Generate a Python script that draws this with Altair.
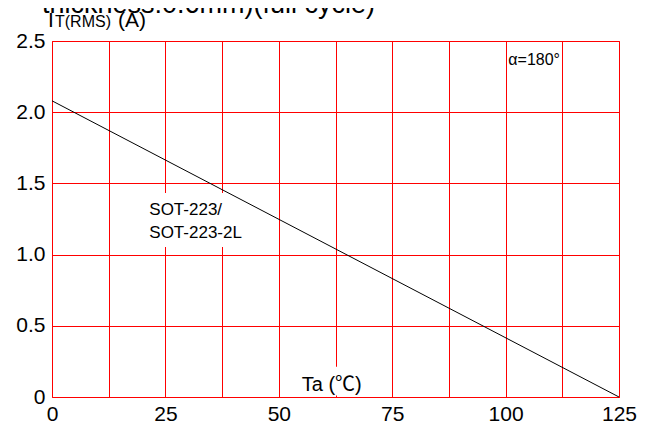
import altair as alt
import pandas as pd

# ---- data ----
temps = [0, 125]            # Ta (°C)
current = [2.08, 0.0]       # IT(RMS) (A)

x_grid = [0, 12.5, 25, 37.5, 50, 62.5, 75, 87.5, 100, 112.5, 125]
y_grid = [0, 0.25, 0.5, 0.75, 1.0, 1.25, 1.5, 1.75, 2.0, 2.25, 2.5]

# annotation texts (data-space anchors)
ann_text = ["thickness:0.6mm)(full cycle)", "I", "T(RMS)", "(A)", "α=180°",
            "SOT-223/", "SOT-223-2L", "Ta (℃)"]
ann_x = [-2.2, -0.88, 0.66, 14.55, 100.6, 21.45, 21.45, 55.05]
ann_y = [2.699, 2.600, 2.600, 2.600, 2.331, 1.278, 1.114, 0.044]
ann_size = [27, 21, 16, 21, 16, 17, 17, 20]

box_x = [20.5, 53.6]
box_x2 = [42.6, 71.2]
box_y = [1.433, 0.213]
box_y2 = [1.053, 0.01]

FONT = "Liberation Sans, Arial, Noto Sans CJK SC, DejaVu Sans"

line_df = pd.DataFrame({"Ta": temps, "I": current})
ann_df = pd.DataFrame({"t": ann_text, "x": ann_x, "y": ann_y, "s": ann_size})
box_df = pd.DataFrame({"x": box_x, "x2": box_x2, "y": box_y, "y2": box_y2})

xscale = alt.Scale(domain=[0, 125], nice=False, zero=False)
yscale = alt.Scale(domain=[0, 2.5], nice=False, zero=False)

xaxis = alt.Axis(values=x_grid, title=None, grid=True, ticks=False, domain=False,
                 labelExpr="datum.value % 25 == 0 ? datum.label : ''",
                 labelFlush=False, labelPadding=6, labelAngle=0)
yaxis = alt.Axis(values=y_grid, title=None, grid=True, ticks=False, domain=False,
                 labelExpr="datum.value == 0 ? '0' : (datum.value % 0.5 == 0 ? format(datum.value, '.1f') : '')",
                 labelFlush=False, labelPadding=7)

line = alt.Chart(line_df).mark_line(color="black", strokeWidth=1).encode(
    x=alt.X("Ta:Q", scale=xscale, axis=xaxis),
    y=alt.Y("I:Q", scale=yscale, axis=yaxis),
)

boxes = alt.Chart(box_df).mark_rect(fill="white", stroke=None).encode(
    x="x:Q", x2="x2", y="y:Q", y2="y2"
)

texts = alt.Chart(ann_df).mark_text(
    align="left", baseline="alphabetic", font=FONT, color="black"
).encode(
    x="x:Q", y="y:Q", text="t:N",
    size=alt.Size("s:Q", scale=None, legend=None),
)

chart = alt.layer(boxes, line, texts).properties(
    width=567, height=356,
    autosize=alt.AutoSizeParams(type="none"),
    padding={"left": 44, "top": 33, "right": 27, "bottom": 30},
).configure_view(
    stroke="#FF0000", strokeWidth=1
).configure_axis(
    gridColor="#FF0000", gridWidth=1, gridOpacity=1,
    labelFont=FONT, labelFontSize=21, labelColor="black",
)

chart.save("out.html", embed_options={"renderer": "svg", "actions": False})
